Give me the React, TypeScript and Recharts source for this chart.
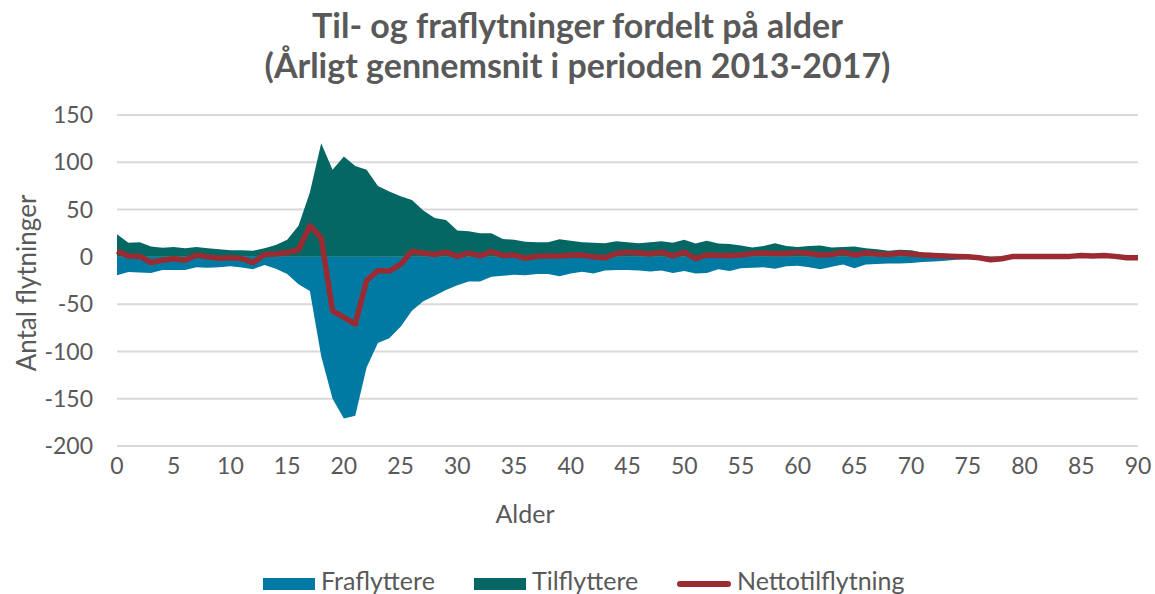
import { Area, CartesianGrid, ComposedChart, Line, XAxis, YAxis } from "recharts";

// alder 0-90
const ages = [
  0, 1, 2, 3, 4, 5, 6, 7, 8, 9, 10, 11, 12, 13, 14, 15, 16, 17, 18, 19, 20, 21, 22, 23, 24, 25, 26, 27, 28, 29,
  30, 31, 32, 33, 34, 35, 36, 37, 38, 39, 40, 41, 42, 43, 44, 45, 46, 47, 48, 49, 50, 51, 52, 53, 54, 55, 56, 57, 58, 59,
  60, 61, 62, 63, 64, 65, 66, 67, 68, 69, 70, 71, 72, 73, 74, 75, 76, 77, 78, 79, 80, 81, 82, 83, 84, 85, 86, 87, 88, 89,
  90,
];

const fraflyttere = [
  -19.5, -16, -16.5, -17, -14, -14, -14, -11, -11.5, -11, -10, -11.3, -13, -8.7, -12.5, -18, -29, -36, -105, -150,
  -171, -168, -117, -91, -86, -74, -57, -47, -41, -35, -30, -26, -26, -21, -20, -19, -19.5, -18, -18, -20.5,
  -17.5, -15.7, -17.5, -14.3, -14, -14, -14.3, -15.4, -14.3, -17, -15, -17.5, -17, -13, -15, -12, -11.5, -11, -12.5, -10,
  -9.5, -11, -13, -10.5, -8, -12, -8, -7.5, -7, -7, -6.5, -5.5, -5, -4, -3, -2.5, -2.5, -3.5, -2.5, -1,
  -1, -1, -1, -1, -1, -0.5, -0.5, -0.5, -0.5, -1, -1,
];

const tilflyttere = [
  24, 15, 15.5, 11, 9.5, 10.5, 9, 10.5, 9, 8, 7, 7, 6.5, 9, 12.5, 18, 33, 68, 120, 92,
  106, 96, 92, 75, 69, 64, 60, 49, 41, 39, 28, 27, 25, 25, 19, 18, 16, 15.5, 15.5, 18.5,
  17, 15.5, 15, 14.5, 16.5, 15.5, 14.5, 15.5, 16.5, 15, 18, 14, 17, 14, 13.5, 12, 10, 11.5, 14.5, 11.5,
  10.5, 11.5, 12, 10, 10.5, 11, 9, 8, 6.5, 7.5, 7, 4.5, 4, 3, 2, 1.5, 1, 0.5, 0.5, 1,
  1, 1, 1, 1, 1, 1.5, 1.5, 1.5, 1, 0.5, 0.5,
];

const netto = [
  6, 1, 0.5, -6, -3.5, -2, -3.5, 2, 0, -1.4, -1, -1.8, -6, 2.5, 3, 4.5, 7.5, 33, 20, -57,
  -64, -71, -25, -14.5, -15, -8, 6, 4, 2.5, 5, 0.5, 4, 1, 5.5, 1.5, 2, -1.5, 0.7, 1, 1,
  1.8, 2, 0, -1, 3.5, 5, 4.3, 3, 5, 1, 5, -2, 2, 1.5, 1.5, 2, 3.5, 4, 3.5, 3.5,
  5, 3.5, 2, 2.5, 5, 2, 4, 3, 2.5, 4, 3, 2, 1.5, 1, 0.5, 0, -1, -3, -2, 0.5,
  0.5, 0.5, 0.5, 0.5, 0.5, 1.5, 1, 1.5, 0.5, -1, -1,
];

const xTicks = [0, 5, 10, 15, 20, 25, 30, 35, 40, 45, 50, 55, 60, 65, 70, 75, 80, 85, 90];
const yTicks = [-200, -150, -100, -50, 0, 50, 100, 150];

const COLORS = {
  fra: "#0079a3",
  til: "#046764",
  net: "#9b2b32",
  text: "#595959",
  grid: "#d9d9d9",
};

const FONT = "Lato, 'Noto Sans', sans-serif";

const data = ages.map((age, i) => ({
  age,
  fra: fraflyttere[i],
  til: tilflyttere[i],
  net: netto[i],
}));

const legendItems = [
  { label: "Fraflyttere", color: COLORS.fra, type: "box", left: 263 },
  { label: "Tilflyttere", color: COLORS.til, type: "box", left: 474 },
  { label: "Nettotilflytning", color: COLORS.net, type: "line", left: 677 },
];

export default function App() {
  return (
    <div
      style={{
        position: "absolute",
        left: 0,
        top: 0,
        width: 1155,
        height: 594,
        overflow: "hidden",
        background: "#fff",
        fontFamily: FONT,
        color: COLORS.text,
      }}
    >
      <div
        style={{
          position: "absolute",
          top: 5,
          left: 0,
          width: 1155,
          textAlign: "center",
          fontSize: 34,
          fontWeight: 700,
          lineHeight: "40px",
        }}
      >
        Til- og fraflytninger fordelt på alder
        <br />
        (Årligt gennemsnit i perioden 2013-2017)
      </div>

      <ComposedChart
        width={1155}
        height={594}
        data={data}
        margin={{ top: 115, right: 17, bottom: 118, left: 57 }}
        style={{ position: "absolute", left: 0, top: 0 }}
      >
        <CartesianGrid vertical={false} stroke={COLORS.grid} strokeWidth={2} />
        <XAxis
          dataKey="age"
          type="number"
          domain={[0, 90]}
          ticks={xTicks}
          interval={0}
          axisLine={false}
          tickLine={false}
          tickMargin={6}
          height={30}
          tick={{ fill: COLORS.text, fontSize: 23, fontFamily: FONT }}
        />
        <YAxis
          type="number"
          domain={[-200, 150]}
          ticks={yTicks}
          interval={0}
          axisLine={false}
          tickLine={false}
          tickMargin={18}
          width={60}
          tick={{ fill: COLORS.text, fontSize: 23, fontFamily: FONT }}
        />
        <Area
          dataKey="fra"
          type="linear"
          fill={COLORS.fra}
          fillOpacity={1}
          stroke="none"
          isAnimationActive={false}
        />
        <Area
          dataKey="til"
          type="linear"
          fill={COLORS.til}
          fillOpacity={1}
          stroke="none"
          isAnimationActive={false}
        />
        <Line
          dataKey="net"
          type="linear"
          stroke={COLORS.net}
          strokeWidth={5.5}
          dot={false}
          strokeLinejoin="round"
          isAnimationActive={false}
        />
      </ComposedChart>

      <div style={{ position: "absolute", left: 0, top: 283, width: 0, height: 0 }}>
        <div
          style={{
            position: "absolute",
            transform: "translate(-50%, -50%) rotate(-90deg)",
            left: 26,
            top: 0,
            whiteSpace: "nowrap",
            fontSize: 26,
          }}
        >
          Antal flytninger
        </div>
      </div>

      <div
        style={{
          position: "absolute",
          left: 425,
          top: 498,
          width: 200,
          textAlign: "center",
          fontSize: 25,
        }}
      >
        Alder
      </div>

      {legendItems.map((item) => (
        <div
          key={item.label}
          style={{
            position: "absolute",
            left: item.left,
            top: 565,
            display: "flex",
            alignItems: "flex-start",
            gap: 6,
            fontSize: 25,
            lineHeight: "30px",
            whiteSpace: "nowrap",
          }}
        >
          {item.type === "box" ? (
            <span style={{ display: "inline-block", width: 52, height: 12, marginTop: 13, background: item.color }} />
          ) : (
            <span
              style={{ display: "inline-block", width: 54, height: 6, marginTop: 16, borderRadius: 3, background: item.color }}
            />
          )}
          <span>{item.label}</span>
        </div>
      ))}
    </div>
  );
}
